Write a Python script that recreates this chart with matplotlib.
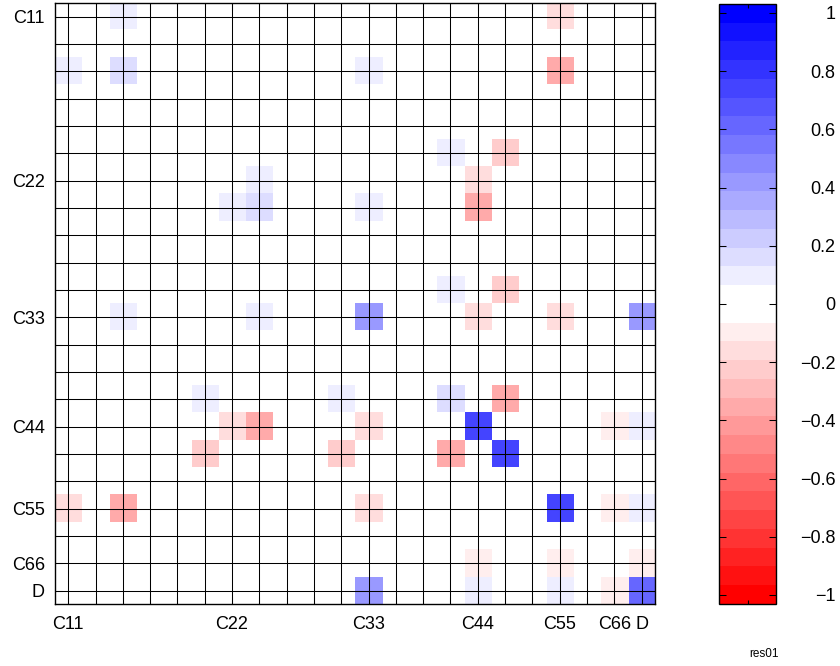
import numpy as np
import matplotlib
matplotlib.use('Agg')
import matplotlib.pyplot as plt
from matplotlib.colors import ListedColormap

plt.rcParams['font.family'] = ['Liberation Sans', 'DejaVu Sans']

# tamano de la matriz de correlacion
n = 22

# etiquetas de los parametros y su posicion en los ejes
etiquetas = ['C11', 'C22', 'C33', 'C44', 'C55', 'C66', 'D']
posiciones = [0, 6, 11, 15, 18, 20, 21]

# valores distintos de cero (triangulo superior, la matriz es simetrica)
filas = [0, 0, 2, 2, 2, 5, 5, 6, 6, 7, 7, 7, 10, 10,
         11, 11, 11, 11, 14, 14, 15, 15, 15, 16, 18, 18, 18, 20, 21]
columnas = [2, 18, 2, 11, 18, 14, 16, 7, 15, 7, 11, 15, 14, 16,
            11, 15, 18, 21, 14, 16, 15, 20, 21, 16, 18, 20, 21, 21, 21]
valores = [0.08, -0.15, 0.15, 0.08, -0.34, 0.08, -0.22, 0.08, -0.15, 0.15, 0.08, -0.34, 0.08, -0.22,
           0.40, -0.15, -0.15, 0.40, 0.15, -0.34, 0.72, -0.08, 0.08, 0.72, 0.72, -0.08, 0.08, -0.08, 0.60]

# limites de color y ticks de la barra de color
lim_color = 1.031
ticks_barra = [-1, -0.8, -0.6, -0.4, -0.2, 0, 0.2, 0.4, 0.6, 0.8, 1]
textos_barra = ['\u22121', '\u22120.8', '\u22120.6', '\u22120.4', '\u22120.2', '0',
                '0.2', '0.4', '0.6', '0.8', '1']


# Funcion que arma la matriz completa a partir del triangulo superior
def armaMatriz():
    M = np.zeros((n, n))
    for f, c, v in zip(filas, columnas, valores):
        M[f, c] = v
        M[c, f] = v
    return M


# Funcion que crea el mapa de color rojo - blanco - azul con 32 niveles
def mapaColor():
    s = np.linspace(0, 1, 16)
    rojos = [(1, 1 - x, 1 - x) for x in s[::-1]]
    azules = [(1 - x, 1 - x, 1) for x in s]
    return ListedColormap(rojos + azules)


# Funcion para graficar la matriz
def graficaMatriz(M):
    fig = plt.figure(figsize=(8.4, 6.66), dpi=100)
    ax = fig.add_axes([0.065, 0.0925, 0.715, 0.903])
    cax = fig.add_axes([0.8565, 0.0931, 0.0673, 0.901])

    im = ax.imshow(M, cmap=mapaColor(), vmin=-lim_color, vmax=lim_color,
                   interpolation='nearest', aspect='auto')

    # rejilla en cada renglon y columna
    ax.set_xticks(np.arange(n))
    ax.set_yticks(np.arange(n))
    ax.set_xticklabels([etiquetas[posiciones.index(i)] if i in posiciones else '' for i in range(n)])
    ax.set_yticklabels([etiquetas[posiciones.index(i)] if i in posiciones else '' for i in range(n)])
    ax.grid(True, color='black', linewidth=0.75)
    ax.tick_params(direction='in', length=5, top=True, right=True,
                   labelsize=13, width=0.75)
    ax.tick_params(axis='x', pad=8)
    ax.tick_params(axis='y', pad=7)
    for s in ax.spines.values():
        s.set_linewidth(1.0)

    # barra de color
    cb = fig.colorbar(im, cax=cax, ticks=ticks_barra)
    cb.ax.set_yticklabels(textos_barra)
    cb.outline.set_linewidth(1.0)
    cax.tick_params(axis='y', direction='in', left=True, right=True,
                    length=5, width=0.75, labelsize=13, pad=43)
    for lbl in cax.get_yticklabels():
        lbl.set_horizontalalignment('right')
    cax.set_xticks([0.5])
    cax.set_xticklabels([])
    cax.tick_params(axis='x', direction='in', top=True, bottom=True, length=3)

    fig.text(0.91, 0.0135, 'res01', fontsize=8.5, ha='center', va='baseline')

    fig.savefig('out.png', dpi=100)


def main():
    M = armaMatriz()
    graficaMatriz(M)


main()
